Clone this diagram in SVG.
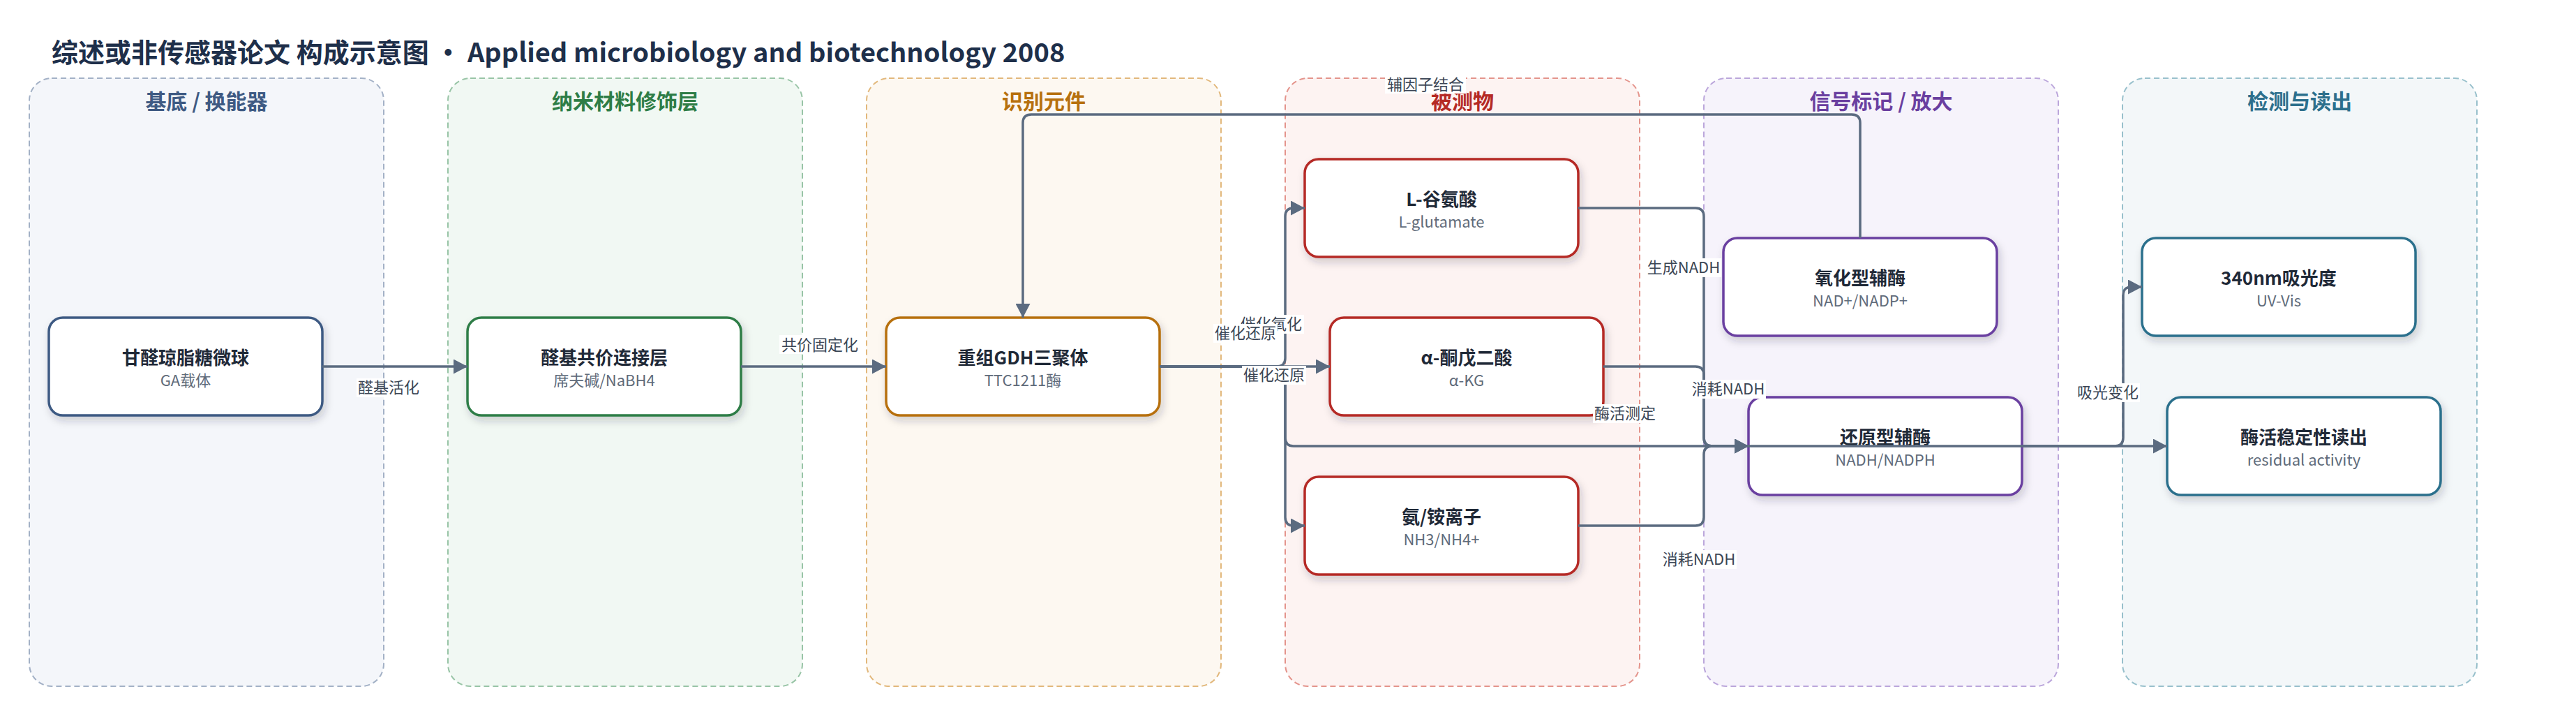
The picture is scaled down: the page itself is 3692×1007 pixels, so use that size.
<svg xmlns="http://www.w3.org/2000/svg" width="3692" height="1007" viewBox="0 0 3692 1007">
  <style>
    text { font-family: 'Noto Sans CJK SC', 'Noto Sans', sans-serif; }
    .title { font-size: 38px; font-weight: 700; fill: #1e2f4a; }
    .lane { stroke-width: 2; stroke-dasharray: 8 5; }
    .lane-title { font-size: 30px; font-weight: 700; text-anchor: middle; }
    .node rect { fill: #ffffff; stroke-width: 3.5; filter: url(#shadow); }
    .nt { font-size: 26px; font-weight: 700; fill: #1f2937; text-anchor: middle; }
    .ns { font-size: 22px; fill: #5f6b7a; text-anchor: middle; }
    .edge { fill: none; stroke: #5b6b80; stroke-width: 3.5; marker-end: url(#arrow); }
    .lbl-bg { fill: #ffffff; }
    .lbl { font-size: 22px; fill: #3b4655; text-anchor: middle; }
  </style>
  <defs>
    <filter id="shadow" x="-10%" y="-20%" width="125%" height="150%">
      <feDropShadow dx="3" dy="6" stdDeviation="6" flood-color="#1e293b" flood-opacity="0.2"/>
    </filter>
    <marker id="arrow" markerUnits="userSpaceOnUse" markerWidth="20" markerHeight="21" refX="20" refY="10.5" orient="auto">
      <path d="M0,0 L20,10.5 L0,21 Z" fill="#5b6b80"/>
    </marker>
  </defs>
  <rect width="3692" height="1007" fill="#ffffff"/>
  <text class="title" x="74" y="89">综述或非传感器论文 构成示意图 · Applied microbiology and biotechnology 2008</text>

  <g id="lanes">
    <g id="lane-substrate">
      <rect class="lane" x="42" y="112" width="508" height="871" rx="32" fill="#f4f6fa" stroke="#a3b1c6"/>
      <text class="lane-title" x="296" y="156" fill="#3e5a83">基底 / 换能器</text>
    </g>
    <g id="lane-nano">
      <rect class="lane" x="642" y="112" width="508" height="871" rx="32" fill="#f1f8f3" stroke="#98c4a6"/>
      <text class="lane-title" x="896" y="156" fill="#2e7d46">纳米材料修饰层</text>
    </g>
    <g id="lane-recog">
      <rect class="lane" x="1242" y="112" width="508" height="871" rx="32" fill="#fdf8f1" stroke="#e2b87c"/>
      <text class="lane-title" x="1496" y="156" fill="#b7700d">识别元件</text>
    </g>
    <g id="lane-analyte">
      <rect class="lane" x="1842" y="112" width="508" height="871" rx="32" fill="#fdf3f2" stroke="#e4948c"/>
      <text class="lane-title" x="2096" y="156" fill="#b52a25">被测物</text>
    </g>
    <g id="lane-signal">
      <rect class="lane" x="2442" y="112" width="508" height="871" rx="32" fill="#f6f3fb" stroke="#bba6db"/>
      <text class="lane-title" x="2696" y="156" fill="#6a3fa0">信号标记 / 放大</text>
    </g>
    <g id="lane-readout">
      <rect class="lane" x="3042" y="112" width="508" height="871" rx="32" fill="#f3f7f9" stroke="#98c0cc"/>
      <text class="lane-title" x="3296" y="156" fill="#2c6f8c">检测与读出</text>
    </g>
  </g>

  <g id="nodes">
    <g id="node-ga" class="node">
      <rect x="70" y="455" width="392" height="140" rx="20" stroke="#3e5a83"/>
      <text class="nt" x="266" y="522">甘醛琼脂糖微球</text>
      <text class="ns" x="266" y="553">GA载体</text>
    </g>
    <g id="node-link" class="node">
      <rect x="670" y="455" width="392" height="140" rx="20" stroke="#2e7d46"/>
      <text class="nt" x="866" y="522">醛基共价连接层</text>
      <text class="ns" x="866" y="553">席夫碱/NaBH4</text>
    </g>
    <g id="node-gdh" class="node">
      <rect x="1270" y="455" width="392" height="140" rx="20" stroke="#b7700d"/>
      <text class="nt" x="1466" y="522">重组GDH三聚体</text>
      <text class="ns" x="1466" y="553">TTC1211酶</text>
    </g>
    <g id="node-glu" class="node">
      <rect x="1870" y="228" width="392" height="140" rx="20" stroke="#b52a25"/>
      <text class="nt" x="2066" y="295">L-谷氨酸</text>
      <text class="ns" x="2066" y="326">L-glutamate</text>
    </g>
    <g id="node-akg" class="node">
      <rect x="1906" y="455" width="392" height="140" rx="20" stroke="#b52a25"/>
      <text class="nt" x="2102" y="522">α-酮戊二酸</text>
      <text class="ns" x="2102" y="553">α-KG</text>
    </g>
    <g id="node-nh" class="node">
      <rect x="1870" y="683" width="392" height="140" rx="20" stroke="#b52a25"/>
      <text class="nt" x="2066" y="750">氨/铵离子</text>
      <text class="ns" x="2066" y="781">NH3/NH4+</text>
    </g>
    <g id="node-nad" class="node">
      <rect x="2470" y="341" width="392" height="140" rx="20" stroke="#6a3fa0"/>
      <text class="nt" x="2666" y="408">氧化型辅酶</text>
      <text class="ns" x="2666" y="439">NAD+/NADP+</text>
    </g>
    <g id="node-nadh" class="node">
      <rect x="2506" y="569" width="392" height="140" rx="20" stroke="#6a3fa0"/>
      <text class="nt" x="2702" y="636">还原型辅酶</text>
      <text class="ns" x="2702" y="667">NADH/NADPH</text>
    </g>
    <g id="node-abs" class="node">
      <rect x="3070" y="341" width="392" height="140" rx="20" stroke="#2c6f8c"/>
      <text class="nt" x="3266" y="408">340nm吸光度</text>
      <text class="ns" x="3266" y="439">UV-Vis</text>
    </g>
    <g id="node-residual" class="node">
      <rect x="3106" y="569" width="392" height="140" rx="20" stroke="#2c6f8c"/>
      <text class="nt" x="3302" y="636">酶活稳定性读出</text>
      <text class="ns" x="3302" y="667">residual activity</text>
    </g>
  </g>

  <g id="connectors">
    <path class="edge" d="M462,525 H670"/>
    <path class="edge" d="M1062,525 H1270"/>
    <path class="edge" d="M1662,525 H1830 Q1842,525 1842,513 V310 Q1842,298 1854,298 H1870"/>
    <path class="edge" d="M1662,525 H1906"/>
    <path class="edge" d="M1662,525 H1830 Q1842,525 1842,537 V741 Q1842,753 1854,753 H1870"/>
    <path class="edge" d="M1662,525 H1830 Q1842,525 1842,537 V627 Q1842,639 1854,639 H3106"/>
    <path class="edge" d="M2262,298 H2430 Q2442,298 2442,310 V627 Q2442,639 2454,639 H2506"/>
    <path class="edge" d="M2298,525 H2430 Q2442,525 2442,537 V627 Q2442,639 2454,639 H2506"/>
    <path class="edge" d="M2262,753 H2430 Q2442,753 2442,741 V651 Q2442,639 2454,639 H2506"/>
    <path class="edge" d="M2666,341 V176 Q2666,164 2654,164 H1478 Q1466,164 1466,176 V455"/>
    <path class="edge" d="M2898,639 H3031 Q3043,639 3043,627 V423 Q3043,411 3055,411 H3070"/>

    <g id="labels">
      <rect class="lbl-bg" x="511" y="542" width="92" height="27"/>
      <text class="lbl" x="557" y="563">醛基活化</text>
      <rect class="lbl-bg" x="1117" y="480" width="116" height="27"/>
      <text class="lbl" x="1175" y="502">共价固定化</text>
      <rect class="lbl-bg" x="1985" y="107" width="116" height="27"/>
      <text class="lbl" x="2043" y="129">辅因子结合</text>
      <rect class="lbl-bg" x="1775" y="451" width="94" height="27"/>
      <text class="lbl" x="1822" y="472">催化氧化</text>
      <rect class="lbl-bg" x="1739" y="464" width="92" height="27"/>
      <text class="lbl" x="1785" y="485">催化还原</text>
      <rect class="lbl-bg" x="1780" y="524" width="92" height="27"/>
      <text class="lbl" x="1826" y="545">催化还原</text>
      <rect class="lbl-bg" x="2359" y="370" width="108" height="27"/>
      <text class="lbl" x="2413" y="391">生成NADH</text>
      <rect class="lbl-bg" x="2423" y="544" width="108" height="27"/>
      <text class="lbl" x="2477" y="565">消耗NADH</text>
      <rect class="lbl-bg" x="2283" y="579" width="92" height="27"/>
      <text class="lbl" x="2329" y="600">酶活测定</text>
      <rect class="lbl-bg" x="2381" y="788" width="108" height="27"/>
      <text class="lbl" x="2435" y="809">消耗NADH</text>
      <rect class="lbl-bg" x="2975" y="549" width="92" height="27"/>
      <text class="lbl" x="3021" y="570">吸光变化</text>
    </g>
  </g>
</svg>
